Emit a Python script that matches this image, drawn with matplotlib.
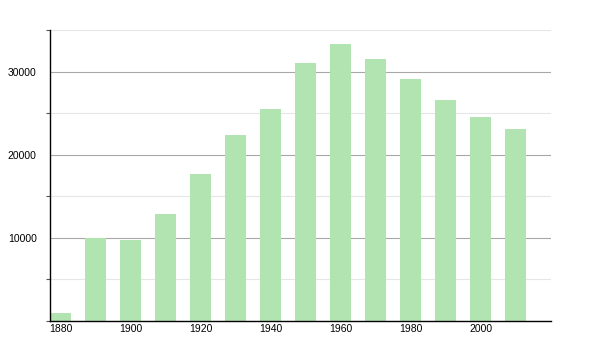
import matplotlib
matplotlib.use("Agg")
import matplotlib.pyplot as plt
from matplotlib.ticker import MultipleLocator

years = [1880, 1890, 1900, 1910, 1920, 1930, 1940, 1950, 1960, 1970, 1980, 1990, 2000, 2010]
population = [930, 9960, 9760, 12890, 17710, 22410, 25500, 31050, 33370, 31530, 29120, 26630, 24540, 23130]
xtick_labels = [1880, 1900, 1920, 1940, 1960, 1980, 2000]
ytick_labels = [10000, 20000, 30000]

plt.rcParams['font.family'] = ['Liberation Sans', 'DejaVu Sans']

fig = plt.figure(figsize=(6, 3.5), dpi=100)
ax = fig.add_axes([50/600, 1 - 321/350, 501/600, 291/350])

ax.bar(years, population, width=6, color='#b1e4b1', zorder=2)

ax.set_xlim(1877, 2020)
ax.set_ylim(0, 35000)
ax.set_xticks(xtick_labels)
ax.set_xticklabels([str(v) for v in xtick_labels])
ax.set_yticks(ytick_labels)
ax.set_yticklabels([str(v) for v in ytick_labels])
ax.yaxis.set_minor_locator(MultipleLocator(5000))

ax.grid(axis='y', which='major', color='#a8a8a8', linewidth=0.8, zorder=1)
ax.grid(axis='y', which='minor', color='#e6e6e6', linewidth=0.8, zorder=1)

for s in ['top', 'right']:
    ax.spines[s].set_visible(False)
for s in ['left', 'bottom']:
    ax.spines[s].set_color('black')
    ax.spines[s].set_linewidth(1.0)

ax.tick_params(axis='x', length=0, labelsize=7.5, pad=2)
ax.tick_params(axis='y', which='major', length=0, labelsize=7.5, pad=9.5)
ax.tick_params(axis='y', which='minor', length=3, width=0.8, color='#555555')

fig.savefig('out.png', dpi=100, facecolor='white')
